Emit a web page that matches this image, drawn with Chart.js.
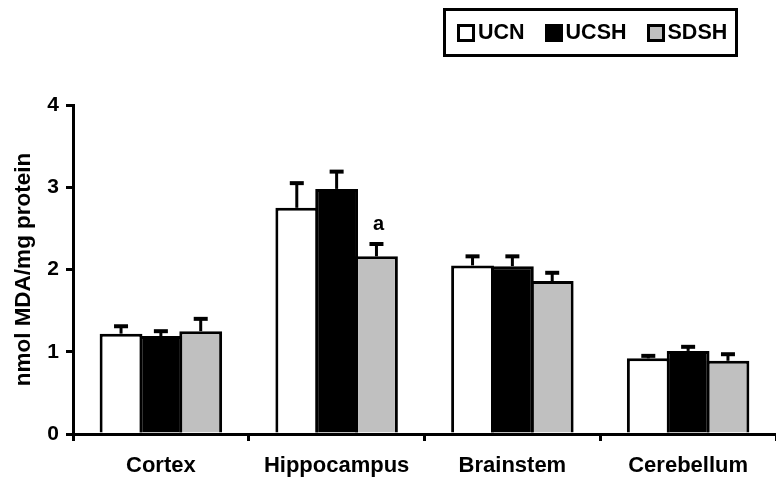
<!DOCTYPE html>
<html>
<head>
<meta charset="utf-8">
<script src="https://cdn.jsdelivr.net/npm/chart.js@4.4.1/dist/chart.umd.min.js"></script>
<style>
  html, body { margin: 0; padding: 0; background: #fff; }
  #wrap { position: relative; width: 776px; height: 485px; }
  #legend {
    position: absolute; left: 443px; top: 8px; width: 278px; height: 43px;
    border: 3px solid #000; box-sizing: content-box;
    font: bold 21.5px "Liberation Sans", Arial, sans-serif; color: #000;
    display: flex; align-items: center; padding-left: 11px;
  }
  #legend span.item { display: flex; align-items: center; margin-right: 20px; }
  #legend i { display: inline-block; width: 12px; height: 12px; border: 3px solid #000; margin-right: 3px; }
</style>
</head>
<body>
<div id="wrap">
  <canvas id="myChart" width="776" height="485"></canvas>
  <div id="legend"></div>
</div>
<script>
var categories = ['Cortex', 'Hippocampus', 'Brainstem', 'Cerebellum'];
var seriesNames = ['UCN', 'UCSH', 'SDSH'];
var seriesColors = ['#ffffff', '#000000', '#c0c0c0'];
var ucn = [1.22, 2.75, 2.05, 0.92];
var ucsh = [1.19, 2.98, 2.04, 1.01];
var sdsh = [1.25, 2.16, 1.86, 0.89];
var ucnErr = [0.09, 0.30, 0.11, 0.03];
var ucshErr = [0.06, 0.21, 0.12, 0.05];
var sdshErr = [0.15, 0.15, 0.10, 0.08];
var yTicks = [0, 1, 2, 3, 4];
var marks = [{ series: 2, index: 1, text: 'a' }];

var values = [ucn, ucsh, sdsh];
var errors = [ucnErr, ucshErr, sdshErr];

// legend
var legendEl = document.getElementById('legend');
seriesNames.forEach(function(name, i) {
	var s = document.createElement('span');
	s.className = 'item';
	s.innerHTML = '<i style="background:' + seriesColors[i] + '"></i>' + name;
	legendEl.appendChild(s);
});

// error bars + letters
var errorBars = {
	id: 'errorBars',
	afterDatasetsDraw: function(chart) {
		var ctx = chart.ctx;
		var y = chart.scales.y;
		ctx.save();
		ctx.strokeStyle = '#000';
		chart.data.datasets.forEach(function(ds, di) {
			var meta = chart.getDatasetMeta(di);
			meta.data.forEach(function(bar, i) {
				var top = y.getPixelForValue(values[di][i]);
				var end = y.getPixelForValue(values[di][i] + errors[di][i]);
				ctx.lineWidth = 3;
				ctx.beginPath();
				ctx.moveTo(bar.x, top);
				ctx.lineTo(bar.x, end);
				ctx.stroke();
				ctx.lineWidth = 4;
				ctx.beginPath();
				ctx.moveTo(bar.x - 7, end);
				ctx.lineTo(bar.x + 7, end);
				ctx.stroke();
			});
		});
		ctx.fillStyle = '#000';
		ctx.font = 'bold 20px "Liberation Sans", Arial, sans-serif';
		ctx.textAlign = 'center';
		ctx.textBaseline = 'bottom';
		marks.forEach(function(m) {
			var bar = chart.getDatasetMeta(m.series).data[m.index];
			var end = y.getPixelForValue(values[m.series][m.index] + errors[m.series][m.index]);
			ctx.fillText(m.text, bar.x + 2, end - 10);
		});
		ctx.restore();
	}
};

var ctx = document.getElementById('myChart').getContext('2d');
var myChart = new Chart(ctx, {
	type: 'bar',
	data: {
		labels: categories,
		datasets: seriesNames.map(function(name, i) {
			return {
				label: name,
				data: values[i],
				backgroundColor: seriesColors[i],
				borderColor: '#000',
				borderWidth: 3,
				borderSkipped: 'bottom',
				categoryPercentage: 0.68,
				barPercentage: 1.075
			};
		})
	},
	options: {
		responsive: false,
		animation: false,
		layout: { padding: { top: 105, right: 0, left: 0, bottom: 0 } },
		plugins: { legend: { display: false }, tooltip: { enabled: false } },
		scales: {
			x: {
				afterFit: function(s) { s.height = 51; },
				grid: { offset: true, drawOnChartArea: false, color: '#000', lineWidth: 3, tickLength: 7, tickColor: '#000' },
				border: { color: '#000', width: 3 },
				ticks: { color: '#000', padding: 12, font: { family: 'Liberation Sans', size: 22, weight: 'bold' } }
			},
			y: {
				min: 0,
				max: 4,
				afterFit: function(s) { s.width = 73; },
				afterBuildTicks: function(s) { s.ticks = yTicks.map(function(v) { return { value: v }; }); },
				grid: { drawOnChartArea: false, color: '#000', lineWidth: 3, tickLength: 7, tickColor: '#000' },
				border: { color: '#000', width: 3 },
				ticks: { color: '#000', padding: 7, font: { family: 'Liberation Sans', size: 21, weight: 'bold' } },
				title: { display: true, text: 'nmol MDA/mg protein', color: '#000', padding: { top: 10, bottom: 2 }, font: { family: 'Liberation Sans', size: 22.5, weight: 'bold' } }
			}
		}
	},
	plugins: [errorBars]
});
</script>
</body>
</html>
